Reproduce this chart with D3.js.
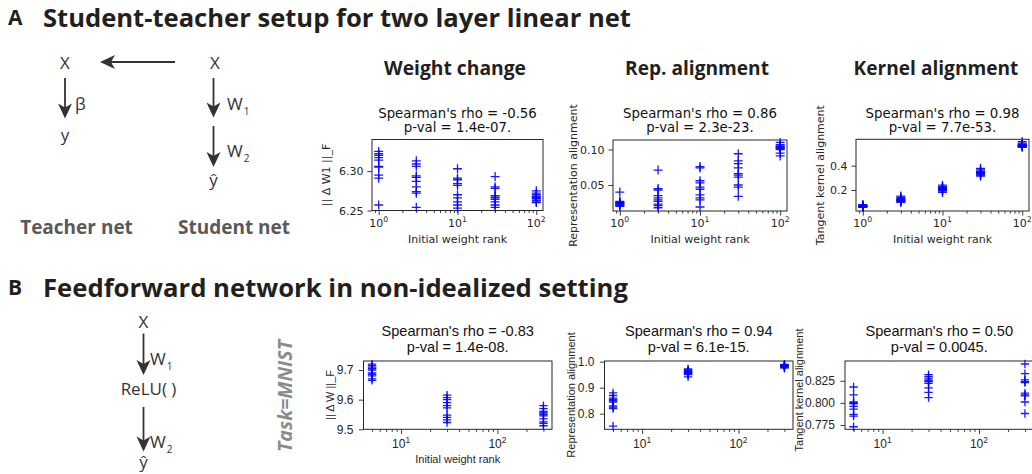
<!DOCTYPE html>
<html><head><meta charset="utf-8">
<script src="https://cdn.jsdelivr.net/npm/d3@7"></script>
<style>body{margin:0;background:#fff}svg{display:block}</style>
</head><body>
<svg id="c" width="1032" height="474"></svg>
<script>
// ---------------- data ----------------
const rankA = [1, 3, 10, 30, 100];
const rankB = [5, 30, 300];

const weightChangeA = [
  [6.325, 6.322, 6.320, 6.317, 6.314, 6.306, 6.305, 6.295, 6.291, 6.257],
  [6.313, 6.309, 6.306, 6.294, 6.292, 6.287, 6.280, 6.274, 6.272, 6.254],
  [6.303, 6.291, 6.289, 6.284, 6.282, 6.270, 6.266, 6.261, 6.257, 6.253],
  [6.293, 6.280, 6.278, 6.269, 6.267, 6.266, 6.264, 6.261, 6.257, 6.254],
  [6.275, 6.272, 6.270, 6.268, 6.267, 6.266, 6.265, 6.263, 6.261, 6.260]
];
const repAlignA = [
  [0.040, 0.027, 0.026, 0.025, 0.024, 0.024, 0.023, 0.022, 0.021, 0.020],
  [0.071, 0.045, 0.043, 0.035, 0.032, 0.029, 0.027, 0.023, 0.021, 0.018],
  [0.076, 0.074, 0.056, 0.053, 0.047, 0.044, 0.036, 0.032, 0.029, 0.019],
  [0.094, 0.084, 0.080, 0.074, 0.066, 0.064, 0.061, 0.050, 0.047, 0.034],
  [0.110, 0.107, 0.105, 0.104, 0.103, 0.102, 0.101, 0.100, 0.095, 0.091]
];
const kernelAlignA = [
  [0.080, 0.075, 0.072, 0.070, 0.068, 0.066, 0.065, 0.063, 0.060, 0.058],
  [0.150, 0.140, 0.130, 0.125, 0.120, 0.117, 0.113, 0.110, 0.105, 0.098],
  [0.240, 0.228, 0.222, 0.216, 0.212, 0.208, 0.203, 0.198, 0.190, 0.180],
  [0.378, 0.365, 0.355, 0.348, 0.343, 0.340, 0.335, 0.330, 0.322, 0.315],
  [0.598, 0.585, 0.578, 0.572, 0.568, 0.565, 0.562, 0.558, 0.555, 0.551]
];
const weightChangeB = [
  [9.720, 9.715, 9.710, 9.705, 9.700, 9.690, 9.685, 9.680, 9.670, 9.665],
  [9.615, 9.607, 9.600, 9.590, 9.580, 9.572, 9.548, 9.540, 9.532, 9.523],
  [9.580, 9.570, 9.560, 9.555, 9.550, 9.545, 9.535, 9.525, 9.520, 9.512]
];
const repAlignB = [
  [0.880, 0.870, 0.860, 0.855, 0.850, 0.845, 0.830, 0.825, 0.820, 0.752],
  [0.972, 0.968, 0.965, 0.963, 0.960, 0.958, 0.955, 0.953, 0.950, 0.942],
  [0.990, 0.988, 0.986, 0.985, 0.984, 0.983, 0.982, 0.980, 0.978, 0.975]
];
const kernelAlignB = [
  [0.818, 0.809, 0.801, 0.800, 0.799, 0.796, 0.793, 0.787, 0.785, 0.773],
  [0.832, 0.830, 0.828, 0.826, 0.825, 0.824, 0.822, 0.817, 0.812, 0.806],
  [0.844, 0.833, 0.826, 0.824, 0.823, 0.811, 0.809, 0.808, 0.801, 0.788]
];

const yTicksA = [[6.25, 6.30], [0.05, 0.10], [0.2, 0.4]];
const yTicksB = [[9.5, 9.6, 9.7], [0.8, 0.9, 1.0], [0.775, 0.800, 0.825]];
const yFormatsA = [".2f", ".2f", ".1f"];
const yFormatsB = [".1f", ".1f", ".3f"];
const yLabelsA = ["|| \u0394 W1 ||_F", "Representation alignment", "Tangent kernel alignment"];
const yLabelsB = ["|| \u0394 W ||_F", "Representation alignment", "Tangent kernel alignment"];
const panelTitlesA = ["Weight change", "Rep. alignment", "Kernel alignment"];
const statsA = [["Spearman's rho = -0.56", "p-val = 1.4e-07."],
                ["Spearman's rho = 0.86", "p-val = 2.3e-23."],
                ["Spearman's rho = 0.98", "p-val = 7.7e-53."]];
const statsB = [["Spearman's rho = -0.83", "p-val = 1.4e-08."],
                ["Spearman's rho = 0.94", "p-val = 6.1e-15."],
                ["Spearman's rho = 0.50", "p-val = 0.0045."]];
const xLabel = "Initial weight rank";
const headingA = "Student-teacher setup for two layer linear net";
const headingB = "Feedforward network in non-idealized setting";

// ---------------- drawing ----------------
const svg = d3.select("#c");
const F_DV = "'DejaVu Sans', sans-serif";
const F_AR = "'Liberation Sans', Arial, sans-serif";
const F_OS = "'Open Sans', 'Noto Sans', sans-serif";
const INK = "#262626";

function fitWidth(sel, w) {
  const len = sel.node().getComputedTextLength();
  const fs = parseFloat(sel.attr("font-size"));
  sel.attr("font-size", fs * w / len);
  return sel;
}

function drawPanel(p) {
  const x = d3.scaleLog().domain(p.xdom).range([p.x0, p.x1]);
  const y = d3.scaleLinear().domain(p.ydom).range([p.y1, p.y0]);
  const g = svg.append("g");

  const minor = [], major = [];
  for (let e = -1; e <= 3; e++) for (let k = 1; k <= 9; k++) {
    const v = k * Math.pow(10, e);
    if (v >= p.xdom[0] && v <= p.xdom[1]) (k === 1 ? major : minor).push(v);
  }
  const gxm = g.append("g").attr("transform", `translate(0,${p.y1})`)
    .call(d3.axisBottom(x).tickValues(minor).tickSize(2.6).tickFormat(""));
  const gxM = g.append("g").attr("transform", `translate(0,${p.y1})`)
    .call(d3.axisBottom(x).tickValues(major).tickSize(4.6).tickFormat(""));
  [gxm, gxM].forEach(a => { a.select(".domain").remove(); a.selectAll("line").attr("stroke", INK).attr("stroke-width", 0.9); });

  major.forEach(v => {
    const e = Math.round(Math.log10(v));
    const t = g.append("text").attr("x", x(v)).attr("y", p.xTickY)
      .attr("text-anchor", "middle").attr("font-family", p.font)
      .attr("font-size", p.tickFs).attr("fill", INK);
    t.append("tspan").text("10");
    t.append("tspan").attr("font-size", p.tickFs * 0.7).attr("dy", -p.tickFs * 0.45).text(String(e));
  });

  const gy = g.append("g").attr("transform", `translate(${p.x0},0)`)
    .call(d3.axisLeft(y).tickValues(p.yticks).tickFormat(d3.format(p.yfmt)).tickSize(4.6).tickPadding(p.pad));
  gy.select(".domain").remove();
  gy.selectAll("line").attr("stroke", INK).attr("stroke-width", 0.9);
  gy.selectAll("text").attr("font-family", p.font).attr("font-size", p.tickFs).attr("fill", INK);

  g.append("rect").attr("x", p.x0).attr("y", p.y0)
    .attr("width", p.x1 - p.x0).attr("height", p.y1 - p.y0)
    .attr("fill", "none").attr("stroke", INK).attr("stroke-width", 1);

  const pts = [];
  p.vals.forEach((grp, i) => grp.forEach(v => pts.push([p.xs[i], v])));
  const s = p.ms;
  g.selectAll("path.pt").data(pts).join("path").attr("class", "pt")
    .attr("d", `M${-s},0H${s}M0,${-s}V${s}`)
    .attr("transform", d => `translate(${x(d[0])},${y(d[1])})`)
    .attr("fill", "none").attr("stroke", "#0000ff").attr("stroke-width", 1.3).attr("opacity", 0.9);

  const cx = (p.x0 + p.x1) / 2;
  p.stats.forEach((s2, i) => {
    g.append("text").attr("x", cx).attr("y", p.statY[i]).attr("text-anchor", "middle")
      .attr("font-family", p.font).attr("font-size", p.statFs).attr("fill", "#111").text(s2);
  });

  if (p.xlab) {
    g.append("text").attr("x", cx).attr("y", p.xLabY).attr("text-anchor", "middle")
      .attr("font-family", p.font).attr("font-size", p.labFs).attr("fill", INK).text(p.xlab);
  }
  g.append("text").attr("transform", `translate(${p.yLabX},${p.yLabCY}) rotate(-90)`)
    .attr("text-anchor", "middle").attr("dy", "0.35em")
    .attr("font-family", p.font).attr("font-size", p.labFs).attr("fill", INK).text(p.ylab);
}

// Panel A
const boxesA = [
  {x0: 372, x1: 543, y0: 139.5, y1: 210.5, ydom: [6.25, 6.3401], yLabX: 326},
  {x0: 613, x1: 787, y0: 140, y1: 211, ydom: [0.0134, 0.1134], yLabX: 573},
  {x0: 856, x1: 1029, y0: 139.3, y1: 211, ydom: [0.0272, 0.617], yLabX: 820}
];
const valsA = [weightChangeA, repAlignA, kernelAlignA];
boxesA.forEach((b, i) => drawPanel(Object.assign({}, b, {
  xdom: [Math.pow(10, -0.085), Math.pow(10, 2.085)], xs: rankA, vals: valsA[i],
  yticks: yTicksA[i], yfmt: yFormatsA[i], font: F_DV, tickFs: 11, statFs: 13.3, labFs: 11,
  pad: 4, ms: 4.5, xTickY: 227, stats: statsA[i], statY: [118, 131.5],
  xlab: xLabel, xLabY: 243, ylab: yLabelsA[i], yLabCY: (b.y0 + b.y1) / 2
})));

// Panel B
const boxesB = [
  {x0: 363.5, x1: 552, y0: 361, y1: 429.3, ydom: [9.5, 9.7304], yLabX: 330, xlab: xLabel},
  {x0: 604.5, x1: 793, y0: 361, y1: 429.3, ydom: [0.74, 1.0027], yLabX: 571, xlab: null},
  {x0: 845, x1: 1033.5, y0: 361, y1: 429.3, ydom: [0.7701, 0.8474], yLabX: 799, xlab: null}
];
const valsB = [weightChangeB, repAlignB, kernelAlignB];
boxesB.forEach((b, i) => drawPanel(Object.assign({}, b, {
  xdom: [Math.pow(10, 0.61), Math.pow(10, 2.566)], xs: rankB, vals: valsB[i],
  yticks: yTicksB[i], yfmt: yFormatsB[i], font: F_AR, tickFs: 12, statFs: 14.6, labFs: 11,
  pad: 5.5, ms: 4.2, xTickY: 448, stats: statsB[i], statY: [336, 352],
  xLabY: 463, ylab: yLabelsB[i], yLabCY: i === 2 ? 390 : 395
})));

// Panel titles (A)
const titleCX = [455, 697, 936], titleW = [142, 144, 165];
panelTitlesA.forEach((t, i) => {
  const el = svg.append("text").attr("x", titleCX[i]).attr("y", 74.5).attr("text-anchor", "middle")
    .attr("font-family", F_OS).attr("font-weight", 700).attr("font-size", 17).attr("fill", "#231f20").text(t);
  fitWidth(el, titleW[i]);
});

// Section headings
function heading(letter, text, yb, w) {
  svg.append("text").attr("x", 8).attr("y", yb - 2).attr("font-family", F_OS).attr("font-weight", 700)
    .attr("font-size", 21).attr("fill", "#231f20").text(letter);
  const el = svg.append("text").attr("x", 43).attr("y", yb).attr("font-family", F_OS).attr("font-weight", 700)
    .attr("font-size", 20).attr("fill", "#231f20").text(text);
  fitWidth(el, w);
}
heading("A", headingA, 27, 588);
heading("B", headingB, 297, 585);

// ---------------- diagrams ----------------
const DG = "#333333";
function label(x, y, t, fs, anchor, extra) {
  const el = svg.append("text").attr("x", x).attr("y", y).attr("text-anchor", anchor || "middle")
    .attr("font-family", F_OS).attr("font-size", fs).attr("fill", DG).text(t);
  if (extra) extra(el);
  return el;
}
function arrowV(x, ys, ye) {
  svg.append("line").attr("x1", x).attr("x2", x).attr("y1", ys).attr("y2", ye - 8)
    .attr("stroke", DG).attr("stroke-width", 1.8);
  svg.append("path").attr("d", `M${x},${ye}L${x - 7},${ye - 15}L${x},${ye - 11}L${x + 7},${ye - 15}Z`).attr("fill", DG);
}
function arrowH(xs, xe, y) {
  svg.append("line").attr("x1", xs).attr("x2", xe + 8).attr("y1", y).attr("y2", y)
    .attr("stroke", DG).attr("stroke-width", 1.8);
  svg.append("path").attr("d", `M${xe},${y}L${xe + 15},${y - 7}L${xe + 11},${y}L${xe + 15},${y + 7}Z`).attr("fill", DG);
}
function wsub(x, y, sub) {
  const t = svg.append("text").attr("x", x).attr("y", y).attr("font-family", F_OS).attr("font-size", 17).attr("fill", DG);
  t.append("tspan").text("W");
  t.append("tspan").attr("font-size", 10).attr("dy", 5).attr("dx", 1).text(sub);
}

// A diagram
label(65, 68.5, "X", 17);
label(215, 68.5, "X", 17);
arrowH(175, 100, 62);
arrowV(65, 78, 118.5);
label(75, 109.5, "\u03b2", 17, "start");
label(65, 141, "y", 17);
arrowV(213.5, 78, 117.5);
wsub(227, 110, "1");
arrowV(213.5, 126, 167);
wsub(227, 157, "2");
label(213.5, 186, "\u0177", 17);
label(76.5, 234, "Teacher net", 19, "middle", el => el.attr("font-weight", 700).attr("fill", "#595959"));
label(234, 234, "Student net", 19, "middle", el => el.attr("font-weight", 700).attr("fill", "#595959"));

// B diagram
label(143.5, 328, "X", 17);
arrowV(143.5, 333.5, 375);
wsub(150, 365, "1");
label(148.5, 395, "ReLU( )", 17);
arrowV(143.5, 407, 451.5);
wsub(150, 448, "2");
label(143.5, 468, "\u0177", 17);
const task = svg.append("text").attr("transform", "translate(285,396) rotate(-90)").attr("text-anchor", "middle")
  .attr("dy", "0.35em").attr("font-family", F_OS).attr("font-weight", 700).attr("font-style", "italic")
  .attr("font-size", 17).attr("fill", "#8c8c8c").text("Task=MNIST");
fitWidth(task, 112);
</script>
</body></html>
